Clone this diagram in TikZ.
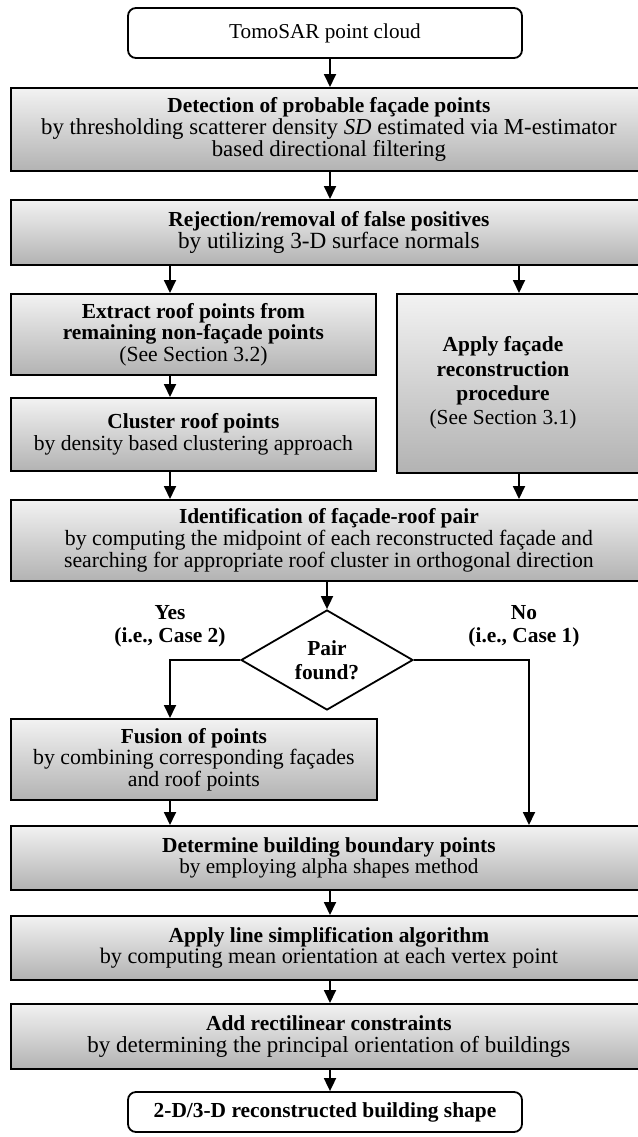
\documentclass[tikz,border=0pt]{standalone}
\usepackage{fontspec}
\setmainfont{Liberation Serif}
\usetikzlibrary{arrows.meta,shapes.geometric}
\newcommand\subtxt[2]{{\fontsize{#1}{10.8}\selectfont #2}}
\newcommand\ttl[1]{{\fontsize{10.7}{10.8}\selectfont\bfseries #1}}
\begin{document}
\begin{tikzpicture}[x=0.5pt,y=-0.5pt,
  every node/.style={font=\fontsize{10.8}{10.8}\selectfont},
  gbox/.style={draw, line width=0.9pt, rectangle, anchor=north west, inner sep=0pt,
    align=center, top color=black!5, bottom color=black!30},
  rbox/.style={draw, line width=0.9pt, rectangle, rounded corners=4pt, fill=white,
    inner sep=0pt, align=center, minimum width=197pt},
  dbox/.style={draw, line width=0.9pt, diamond, aspect=1.72, inner sep=0pt, fill=white,
    align=center, minimum width=86pt, minimum height=50pt, font=\fontsize{10.7}{12}\selectfont\bfseries},
  lbl/.style={align=center, font=\fontsize{10.7}{11.5}\selectfont\bfseries},
  arr/.style={line width=0.9pt, -{Triangle[width=6pt,length=6.5pt]}}
]
\useasboundingbox (0,0) rectangle (638,1137);
\clip (0,0) rectangle (638,1137);

\coordinate (mx) at (330,0);
\coordinate (lx) at (170,0);
\coordinate (rx) at (519,0);
\coordinate (nx) at (529,0);

\node[rbox, minimum height=25pt, font=\fontsize{10.6}{12}\selectfont] (top) at (325,33) {TomoSAR point cloud};

\node[gbox, minimum width=318pt, minimum height=41.5pt] (b1) at (10,87)
  {\ttl{Detection of probable façade points}\\\subtxt{11.4}{by thresholding scatterer density \textit{SD} estimated via M-estimator}\\\subtxt{11.4}{based directional filtering}};

\node[gbox, minimum width=318pt, minimum height=32.5pt] (b2) at (10,199)
  {\ttl{Rejection/removal of false positives}\\\subtxt{11.6}{by utilizing 3-D surface normals}};

\node[gbox, minimum width=182.5pt, minimum height=40.5pt] (bA) at (10,293)
  {\ttl{Extract roof points from}\\\ttl{remaining non-façade points}\\\subtxt{10.8}{(See Section 3.2)}};

\node[gbox, minimum width=182.5pt, minimum height=36.5pt] (bB) at (10,397)
  {\ttl{Cluster roof points}\\\subtxt{10.8}{by density based clustering approach}};

\node[gbox, minimum width=132pt, minimum height=89.5pt] (bR) at (396,293) {};
\node[align=center, font=\fontsize{10.7}{12.2}\selectfont] (bRt) at (503,383)
  {\textbf{Apply façade}\\\textbf{reconstruction}\\\textbf{procedure}\\(See Section 3.1)};

\node[gbox, minimum width=318pt, minimum height=40.5pt] (bI) at (10,499)
  {\ttl{Identification of façade-roof pair}\\\subtxt{10.9}{by computing the midpoint of each reconstructed façade and}\\\subtxt{10.9}{searching for appropriate roof cluster in orthogonal direction}};

\node[dbox] (dm) at (327,660) {Pair\\found?};

\node[lbl] (yes) at (170,626) {Yes\\(i.e., Case 2)};
\node[lbl] (no) at (524,626) {No\\(i.e., Case 1)};

\node[gbox, minimum width=183pt, minimum height=40.5pt] (bF) at (10,718)
  {\ttl{Fusion of points}\\\subtxt{10.9}{by combining corresponding façades}\\\subtxt{10.9}{and roof points}};

\node[gbox, minimum width=318pt, minimum height=32pt] (bD) at (10,825)
  {\ttl{Determine building boundary points}\\\subtxt{10.6}{by employing alpha shapes method}};

\node[gbox, minimum width=318pt, minimum height=32pt] (bL) at (10,915)
  {\ttl{Apply line simplification algorithm}\\\subtxt{11.1}{by computing mean orientation at each vertex point}};

\node[gbox, minimum width=318pt, minimum height=32.5pt] (bC) at (10,1003)
  {\ttl{Add rectilinear constraints}\\\subtxt{11.5}{by determining the principal orientation of buildings}};

\node[rbox, minimum height=20pt, font=\fontsize{10.7}{12}\selectfont\bfseries] (end) at (325,1112)
  {2-D/3-D reconstructed building shape};

\draw[arr] (top.south -| mx) -- (b1.north -| mx);
\draw[arr] (b1.south -| mx) -- (b2.north -| mx);
\draw[arr] (b2.south -| lx) -- (bA.north -| lx);
\draw[arr] (b2.south -| rx) -- (bR.north -| rx);
\draw[arr] (bA.south -| lx) -- (bB.north -| lx);
\draw[arr] (bB.south -| lx) -- (bI.north -| lx);
\draw[arr] (bR.south -| rx) -- (bI.north -| rx);
\draw[arr] (bI.south -| dm.north) -- (dm.north);
\draw[arr] (dm.west) -| (bF.north -| lx);
\draw[arr] (dm.east) -| (bD.north -| nx);
\draw[arr] (bF.south -| lx) -- (bD.north -| lx);
\draw[arr] (bD.south -| mx) -- (bL.north -| mx);
\draw[arr] (bL.south -| mx) -- (bC.north -| mx);
\draw[arr] (bC.south -| mx) -- (end.north -| mx);
\end{tikzpicture}
\end{document}
